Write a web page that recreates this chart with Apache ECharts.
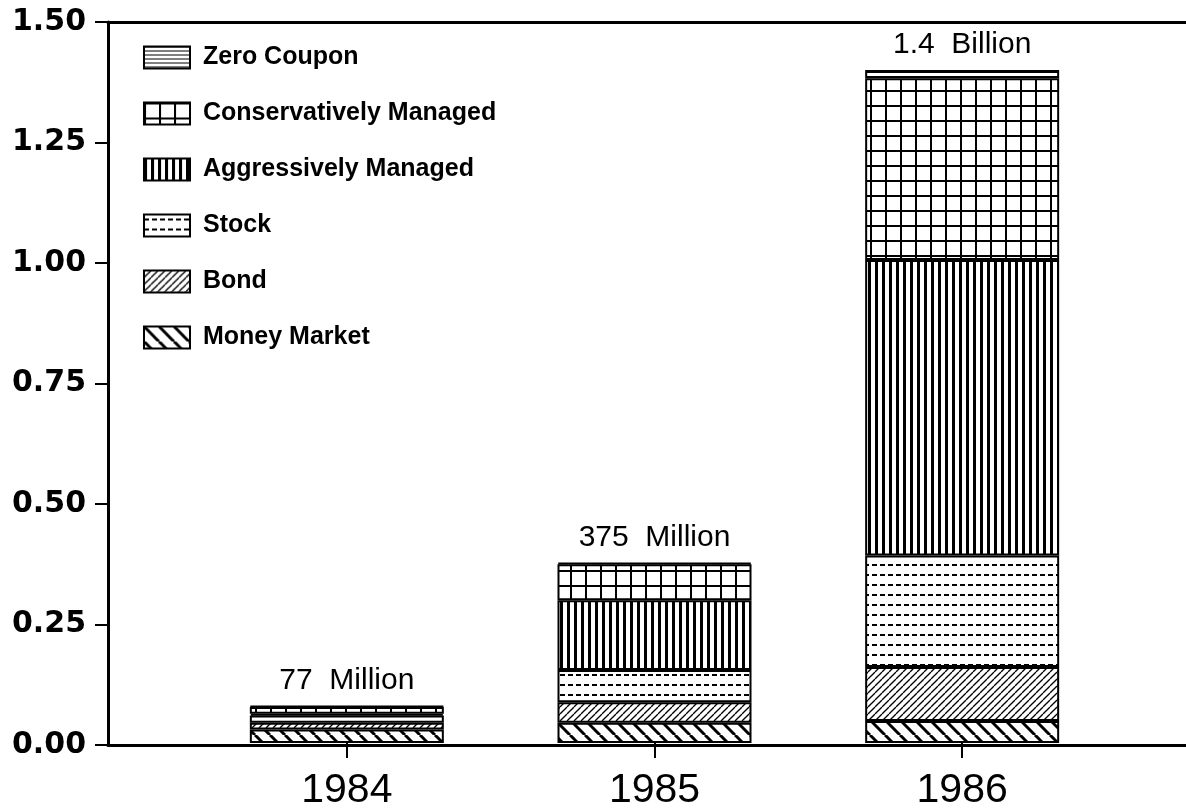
<!DOCTYPE html>
<html>
<head>
<meta charset="utf-8">
<title>Fund assets 1984-1986</title>
<script src="https://cdn.jsdelivr.net/npm/echarts@6/dist/echarts.min.js"></script>
<style>
  html, body { margin: 0; padding: 0; background: #fff; }
  #main { width: 1186px; height: 811px; }
</style>
</head>
<body>
<div id="main"></div>
<script type="text/javascript">
// data (billions)
var years = ['1984', '1985', '1986'];
var totalLabels = ['77  Million', '375  Million', '1.4  Billion'];
var moneyMarket = [0.028, 0.042, 0.046];
var bond = [0.014, 0.043, 0.112];
var stock = [0.015, 0.067, 0.232];
var aggressive = [0.004, 0.145, 0.615];
var conservative = [0.014, 0.075, 0.378];
var zeroCoupon = [0.002, 0.003, 0.017];

// black and white fill patterns
function makeTile(w, h, draw) {
    var c = document.createElement('canvas');
    c.width = w; c.height = h;
    var ctx = c.getContext('2d');
    ctx.fillStyle = '#fff';
    ctx.fillRect(0, 0, w, h);
    ctx.fillStyle = '#000';
    ctx.strokeStyle = '#000';
    draw(ctx, w, h);
    return { image: c, repeat: 'repeat' };
}

var patHoriz = makeTile(8, 4, function (ctx, w, h) {
    ctx.fillRect(0, 0, w, 1);
});
var patGrid = makeTile(15, 15, function (ctx, w, h) {
    ctx.fillRect(0, 0, w, 2);
    ctx.fillRect(0, 0, 2, h);
});
var patVert = makeTile(7, 8, function (ctx, w, h) {
    ctx.fillRect(0, 0, 3, h);
});
var patDots = makeTile(8, 10, function (ctx, w, h) {
    ctx.fillRect(0, 4, 5, 2);
});
var patSlash = makeTile(7, 7, function (ctx, w, h) {
    ctx.lineWidth = 1.3;
    for (var k = -1; k <= 1; k++) {
        ctx.beginPath();
        ctx.moveTo(k * w, h);
        ctx.lineTo(k * w + w, 0);
        ctx.stroke();
    }
});
var patBack = makeTile(15, 15, function (ctx, w, h) {
    ctx.lineWidth = 3;
    for (var k = -1; k <= 1; k++) {
        ctx.beginPath();
        ctx.moveTo(k * w, 0);
        ctx.lineTo(k * w + w, h);
        ctx.stroke();
    }
});

function barSeries(name, arr, pattern) {
    return {
        name: name,
        type: 'bar',
        stack: 'total',
        xAxisIndex: 2,
        yAxisIndex: 1,
        barWidth: 194,
        data: arr,
        itemStyle: { color: pattern, borderColor: '#000', borderWidth: 2 },
        emphasis: { disabled: true }
    };
}

var series = [
    barSeries('Money Market', moneyMarket, patBack),
    barSeries('Bond', bond, patSlash),
    barSeries('Stock', stock, patDots),
    barSeries('Aggressively Managed', aggressive, patVert),
    barSeries('Conservatively Managed', conservative, patGrid),
    barSeries('Zero Coupon', zeroCoupon, patHoriz)
];
series[5].label = {
    show: true,
    position: 'top',
    distance: 10,
    color: '#000',
    fontFamily: 'Liberation Sans, Arial, sans-serif',
    fontSize: 30,
    formatter: function (p) { return totalLabels[p.dataIndex]; }
};

var myChart = echarts.init(document.getElementById('main'));
var option = {
    animation: false,
    backgroundColor: '#fff',
    grid: [
        { left: 108, right: 0, top: 22, bottom: 66 },   // frame with axes
        { left: 193, right: 70, top: 22, bottom: 66 }   // bars
    ],
    legend: {
        data: ['Zero Coupon', 'Conservatively Managed', 'Aggressively Managed', 'Stock', 'Bond', 'Money Market'],
        orient: 'vertical',
        left: 138,
        top: 40,
        itemWidth: 46,
        itemHeight: 22,
        itemGap: 31,
        icon: 'rect',
        selectedMode: false,
        itemStyle: { borderColor: '#000', borderWidth: 2 },
        textStyle: {
            color: '#000',
            fontFamily: 'Liberation Sans, Arial, sans-serif',
            fontWeight: 'bold',
            fontSize: 25,
            padding: [0, 0, 0, 8]
        }
    },
    xAxis: [{
        gridIndex: 0,
        type: 'value',
        min: 0,
        max: 1,
        splitLine: { show: false },
        axisLine: { show: true, lineStyle: { color: '#000', width: 3 } },
        axisTick: { show: false },
        axisLabel: { show: false }
    }, {
        gridIndex: 0,
        type: 'value',
        position: 'top',
        min: 0,
        max: 1,
        splitLine: { show: false },
        axisLine: { show: true, lineStyle: { color: '#000', width: 3 } },
        axisTick: { show: false },
        axisLabel: { show: false }
    }, {
        gridIndex: 1,
        type: 'category',
        data: years,
        axisLine: { show: false },
        axisTick: {
            show: true, alignWithLabel: true, length: 15,
            lineStyle: { color: '#000', width: 2 }
        },
        axisLabel: {
            margin: 27,
            color: '#000',
            fontFamily: 'Liberation Sans, Arial, sans-serif',
            fontSize: 41
        }
    }],
    yAxis: [{
        gridIndex: 0,
        type: 'value',
        min: 0,
        max: 1.5,
        interval: 0.25,
        splitLine: { show: false },
        axisLine: { show: true, lineStyle: { color: '#000', width: 3 } },
        axisTick: { show: true, inside: false, length: 13, lineStyle: { color: '#000', width: 2 } },
        axisLabel: {
            margin: 22,
            color: '#000',
            fontFamily: 'DejaVu Sans, sans-serif',
            fontWeight: 'bold',
            fontSize: 30,
            formatter: function (v) { return v.toFixed(2); }
        }
    }, {
        gridIndex: 1,
        type: 'value',
        min: 0,
        max: 1.5,
        interval: 0.25,
        show: false
    }],
    series: series
};

myChart.setOption(option);
</script>
</body>
</html>
